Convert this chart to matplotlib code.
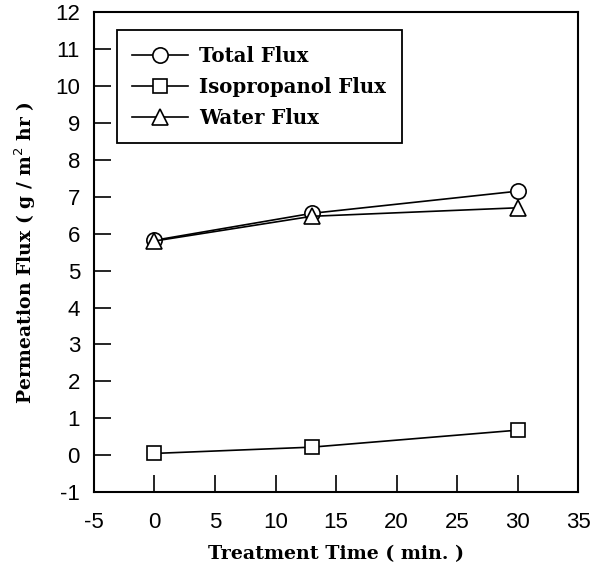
import numpy as np
import matplotlib.pyplot as plt

plt.rcParams['axes.unicode_minus'] = False

# data
time = [0, 13, 30]
total_flux = [5.82, 6.55, 7.15]
iso_flux = [0.05, 0.22, 0.68]
water_flux = [5.80, 6.47, 6.70]

xticks = [-5, 0, 5, 10, 15, 20, 25, 30, 35]
yticks = list(range(-1, 13))

serif = ['DejaVu Serif']
fig = plt.figure(figsize=(5.98, 5.73), dpi=100)
ax = fig.add_axes([0.157, 0.141, 0.81, 0.838])

ax.plot(time, total_flux, color='black', lw=1.2, marker='o', ms=11,
        mfc='white', mec='black', mew=1.2, label='Total Flux', zorder=3)
ax.plot(time, iso_flux, color='black', lw=1.2, marker='s', ms=10,
        mfc='white', mec='black', mew=1.2, label='Isopropanol Flux', zorder=3)
ax.plot(time, water_flux, color='black', lw=1.2, marker='^', ms=11,
        mfc='white', mec='black', mew=1.2, label='Water Flux', zorder=4)

ax.set_xlim(-5, 35)
ax.set_ylim(-1, 12)
ax.set_xticks(xticks)
ax.set_yticks(yticks)
ax.tick_params(direction='in', length=12, width=1.2, labelsize=16,
               top=False, right=False)
ax.tick_params(axis='x', pad=14)
ax.tick_params(axis='y', pad=10)
for lab in ax.get_xticklabels() + ax.get_yticklabels():
    lab.set_family('Liberation Sans')
for sp in ax.spines.values():
    sp.set_linewidth(1.5)

ax.set_xlabel('Treatment Time ( min. )', fontsize=13.7, fontweight='bold',
              family=serif, labelpad=9)
ax.set_ylabel('Permeation Flux ( g / m$^2$ hr )', fontsize=13.5, fontweight='bold',
              family=serif, labelpad=12)

leg = ax.legend(loc='upper left', bbox_to_anchor=(0.047, 0.9625), borderaxespad=0,
                fancybox=False, edgecolor='black', framealpha=1, handlelength=2.8,
                prop={'family': serif, 'weight': 'bold', 'size': 14.2},
                borderpad=0.8, labelspacing=0.55, handletextpad=0.6)
leg.get_frame().set_linewidth(1.3)

plt.savefig('out.png', dpi=100)
